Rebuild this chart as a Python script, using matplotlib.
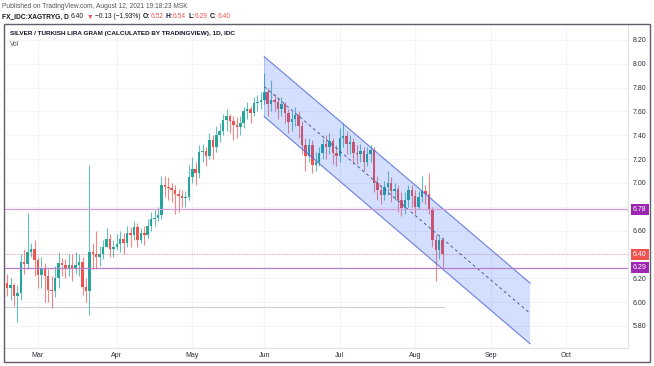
import matplotlib
matplotlib.use('Agg')
import matplotlib.pyplot as plt
import numpy as np
import pandas as pd
from matplotlib.patches import Polygon, Rectangle

plt.rcParams['font.family'] = ['Liberation Sans', 'DejaVu Sans']

# daily candles, first bar 2021-02-16, last bar 2021-08-12
start_date = '2021-02-16'
first_open = 6.16
closes = [6.12, 6.14, 6.05, 6.08, 6.34, 6.32, 6.42, 6.45, 6.35, 6.23,
          6.28, 6.22, 6.10, 6.09, 6.20, 6.33, 6.31, 6.28, 6.31, 6.29,
          6.31, 6.34, 6.13, 6.09, 6.42, 6.40, 6.38, 6.40, 6.46, 6.53,
          6.45, 6.46, 6.49, 6.53, 6.50, 6.58, 6.56, 6.63, 6.52, 6.58,
          6.56, 6.64, 6.70, 6.71, 6.73, 6.98, 6.97, 6.96, 6.94, 6.91,
          6.89, 6.87, 6.88, 7.05, 7.12, 7.08, 7.26, 7.27, 7.23, 7.36,
          7.30, 7.40, 7.44, 7.53, 7.56, 7.52, 7.49, 7.47, 7.50, 7.60,
          7.62, 7.59, 7.67, 7.68, 7.70, 7.76, 7.66, 7.70, 7.68, 7.62,
          7.66, 7.59, 7.51, 7.54, 7.57, 7.48, 7.32, 7.23, 7.32, 7.15,
          7.18, 7.25, 7.33, 7.30, 7.35, 7.25, 7.23, 7.38, 7.39, 7.33,
          7.34, 7.25, 7.24, 7.27, 7.18, 7.24, 7.28, 7.00, 6.94, 6.90,
          6.97, 7.00, 6.93, 6.95, 6.86, 6.79, 6.86, 6.94, 6.89, 6.80,
          6.88, 6.93, 6.91, 6.78, 6.52, 6.44, 6.52, 6.40]
highs = [6.24, 6.20, 6.16, 6.14, 6.40, 6.45, 6.75, 6.50, 6.52, 6.38,
         6.38, 6.33, 6.28, 6.22, 6.30, 6.42, 6.37, 6.36, 6.40, 6.40,
         6.42, 6.40, 6.38, 6.20, 7.15, 6.50, 6.60, 6.47, 6.52, 6.62,
         6.57, 6.52, 6.57, 6.60, 6.58, 6.64, 6.63, 6.68, 6.66, 6.62,
         6.64, 6.70, 6.76, 6.77, 6.80, 7.06, 7.06, 7.05, 7.00, 6.98,
         6.95, 6.94, 6.93, 7.15, 7.22, 7.18, 7.32, 7.33, 7.30, 7.42,
         7.40, 7.48, 7.50, 7.58, 7.62, 7.58, 7.56, 7.55, 7.56, 7.64,
         7.68, 7.65, 7.72, 7.74, 7.76, 7.92, 7.80, 7.86, 7.75, 7.72,
         7.72, 7.68, 7.62, 7.60, 7.64, 7.60, 7.52, 7.38, 7.38, 7.36,
         7.26, 7.30, 7.38, 7.40, 7.42, 7.38, 7.32, 7.46, 7.50, 7.44,
         7.40, 7.38, 7.32, 7.33, 7.30, 7.30, 7.32, 7.30, 7.06, 6.98,
         7.02, 7.10, 7.05, 7.00, 6.98, 6.92, 6.92, 6.98, 6.98, 6.94,
         6.93, 7.06, 6.98, 7.08, 6.80, 6.56, 6.56, 6.54]
lows = [6.05, 6.02, 5.97, 5.83, 6.02, 6.24, 6.28, 6.38, 6.22, 6.12,
        6.12, 6.00, 6.00, 5.95, 6.04, 6.12, 6.22, 6.20, 6.22, 6.18,
        6.24, 6.22, 6.06, 6.00, 5.89, 6.28, 6.28, 6.30, 6.36, 6.46,
        6.38, 6.38, 6.44, 6.42, 6.40, 6.46, 6.46, 6.52, 6.46, 6.50,
        6.48, 6.54, 6.60, 6.64, 6.68, 6.70, 6.88, 6.86, 6.84, 6.74,
        6.76, 6.80, 6.80, 6.86, 7.00, 6.98, 7.04, 7.18, 7.14, 7.20,
        7.20, 7.26, 7.34, 7.40, 7.44, 7.42, 7.36, 7.38, 7.40, 7.46,
        7.54, 7.50, 7.56, 7.60, 7.62, 7.66, 7.56, 7.60, 7.60, 7.54,
        7.56, 7.50, 7.42, 7.44, 7.48, 7.38, 7.24, 7.10, 7.18, 7.08,
        7.10, 7.14, 7.20, 7.20, 7.24, 7.16, 7.14, 7.18, 7.30, 7.24,
        7.24, 7.16, 7.16, 7.18, 7.10, 7.14, 7.18, 6.92, 6.86, 6.82,
        6.86, 6.90, 6.84, 6.86, 6.76, 6.72, 6.74, 6.80, 6.80, 6.74,
        6.78, 6.84, 6.82, 6.74, 6.46, 6.18, 6.36, 6.29]

# drawings
channel_x = [75, 152.5]
channel_top = [8.06, 6.16]
channel_bot = [7.556, 5.65]
level_prices = [6.78, 6.29]
level_colors = ['#d39ddc', '#b77ec8']
last_price = 6.40
ray_price = 5.96
ray_end = 127.5
price_ticks = [5.8, 6.0, 6.2, 6.6, 7.0, 7.2, 7.4, 7.6, 7.8, 8.0, 8.2]
grid_prices = np.arange(5.8, 8.21, 0.2)

W, H = 654, 366
fig = plt.figure(figsize=(W / 100, H / 100), dpi=100)


def fx(px):
    return px / W


def fy(py):
    return 1 - py / H


ax = fig.add_axes([fx(4), fy(348), fx(624), 324 / H])

n = len(closes)
idx = np.arange(n)
opens = [first_open] + closes[:-1]
up = np.array(closes) >= np.array(opens)
colors = np.where(up, '#26a69a', '#ef5350')

dates = pd.bdate_range(start_date, periods=200)
month_idx = [i for i in range(1, 200) if dates[i].month != dates[i - 1].month]
month_idx = [i for i in month_idx if i < 181]

# grid
for p in grid_prices:
    ax.axhline(p, color='#f2f4f9', lw=0.8, zorder=0)
for i in month_idx:
    ax.axvline(i, color='#f2f4f9', lw=0.8, zorder=0)

# candles
ax.vlines(idx, lows, highs, colors=colors, lw=0.8, alpha=0.7, zorder=2)
bottoms = np.minimum(opens, closes)
heights = np.maximum(np.abs(np.array(closes) - np.array(opens)), 0.01)
ax.bar(idx, heights, bottom=bottoms, width=0.72, color=colors, lw=0, zorder=2)

# channel
x0, x1 = channel_x
poly = Polygon([(x0, channel_top[0]), (x1, channel_top[1]),
                (x1, channel_bot[1]), (x0, channel_bot[0])],
               closed=True, fc='#2962ff', alpha=0.2, ec='none', zorder=3)
ax.add_patch(poly)
ax.plot(channel_x, channel_top, color='#4a64d8', lw=0.8, alpha=0.8, zorder=3)
ax.plot(channel_x, channel_bot, color='#4a64d8', lw=0.8, alpha=0.8, zorder=3)
ax.plot([x0, x0], [channel_top[0], channel_bot[0]], color='#2962ff',
        lw=0.6, alpha=0.3, zorder=3)
mid = [(channel_top[0] + channel_bot[0]) / 2, (channel_top[1] + channel_bot[1]) / 2]
ax.plot(channel_x, mid, color='#4c5c99', lw=0.7, ls=(0, (3, 3)), zorder=3)

# horizontal levels
ax.plot([-1, ray_end], [ray_price, ray_price], color='#cdd0da', lw=0.8, zorder=1)
ax.axhline(last_price, color='#ef5350', lw=0.6, ls=(0, (1, 2)), alpha=0.7, zorder=4)
for p, c in zip(level_prices, level_colors):
    ax.axhline(p, color=c, lw=0.9, zorder=4)

# price labels
def price_box(p, fc):
    ax.annotate('%.2f' % p, xy=(1, p), xycoords=('axes fraction', 'data'),
                xytext=(5, 0), textcoords='offset pixels', ha='left', va='center',
                fontsize=5, color='white',
                bbox=dict(boxstyle='square,pad=0.3', fc=fc, ec='none'),
                annotation_clip=False)


price_box(6.78, '#9c27b0')
price_box(last_price, '#ef5350')
price_box(6.29, '#9c27b0')

ax.set_xlim(-0.9, 181.05)
ax.set_ylim(5.615, 8.334)
ax.yaxis.tick_right()
ax.set_yticks(price_ticks)
ax.set_yticklabels(['%.2f' % t for t in price_ticks])
ax.set_xticks(month_idx)
ax.set_xticklabels([dates[i].strftime('%b') for i in month_idx])
ax.tick_params(axis='y', length=0, pad=3.6, labelsize=5, labelcolor='#2a2e39')
ax.tick_params(axis='x', length=0, pad=3.2, labelsize=5, labelcolor='#2a2e39')
for s in ['left', 'top']:
    ax.spines[s].set_visible(False)
for s in ['right', 'bottom']:
    ax.spines[s].set_color('#e0e3eb')
    ax.spines[s].set_linewidth(0.8)

# outer frame
fig.add_artist(Rectangle((fx(4), fy(362)), fx(646), 338 / H, transform=fig.transFigure,
                         fill=False, ec='#5d606b', lw=1))

# header
fig.text(fx(2), fy(7), 'Published on TradingView.com, August 12, 2021 19:18:23 MSK',
         fontsize=4.8, color='#555555', va='center')
renderer = fig.canvas.get_renderer()
pieces = [('FX_IDC:XAGTRYG, D', '#131722', 'bold'), ('6.40', '#131722', 'normal'),
          ('\u25bc', '#ef5350', 'normal'), ('\u22120.13 (\u22121.93%)', '#131722', 'normal'),
          ('O:', '#131722', 'bold'), ('6.52', '#ef5350', 'normal'),
          ('H:', '#131722', 'bold'), ('6.54', '#ef5350', 'normal'),
          ('L:', '#131722', 'bold'), ('6.29', '#ef5350', 'normal'),
          ('C:', '#131722', 'bold'), ('6.40', '#ef5350', 'normal')]
xp = 2
for s, c, w in pieces:
    t = fig.text(fx(xp), fy(17), s, fontsize=4.8, color=c, weight=w, va='center')
    xp += t.get_window_extent(renderer).width
    if s.endswith(':'):
        xp += 0.3
    else:
        xp += 2.2

fig.text(fx(10), fy(34), 'SILVER / TURKISH LIRA GRAM (CALCULATED BY TRADINGVIEW), 1D, IDC',
         fontsize=4.6, color='#131722', weight='bold', va='center')
fig.text(fx(10), fy(44), 'Vol', fontsize=4.8, color='#555555', va='center')

fig.savefig('out.png', dpi=100)
